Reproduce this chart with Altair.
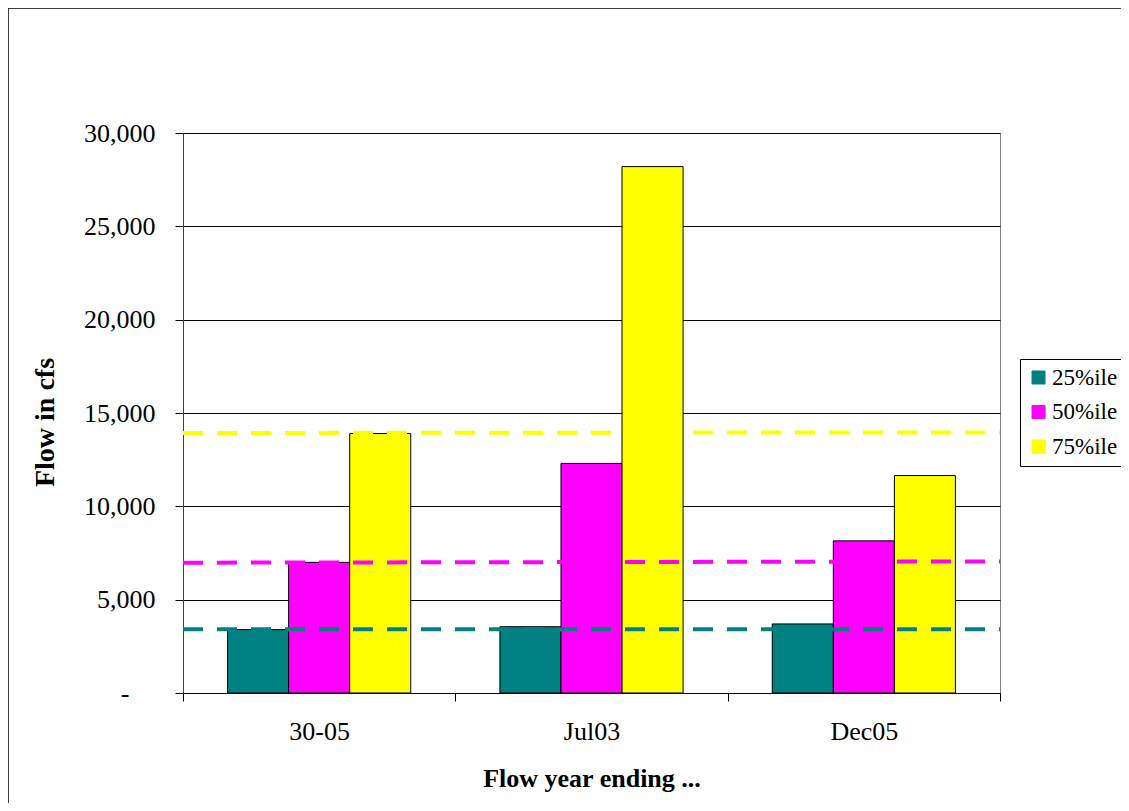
import altair as alt
import pandas as pd

categories = ["30-05", "Jul03", "Dec05"]
series = ["25%ile", "50%ile", "75%ile"]
p25 = [3400, 3550, 3700]
p50 = [7000, 12300, 8150]
p75 = [13900, 28200, 11650]
ref_start = [3420, 6980, 13930]
ref_end = [3420, 7050, 13960]
colors = ["#008080", "#FF00FF", "#FFFF00"]
y_ticks = [0, 5000, 10000, 15000, 20000, 25000, 30000]

rows = []
for i, c in enumerate(categories):
    for s, vals in zip(series, [p25, p50, p75]):
        rows.append({"cat": c, "series": s, "value": vals[i]})
bars_df = pd.DataFrame(rows)
ref_df = pd.DataFrame({"series": series, "start": ref_start, "end": ref_end})

W, H = 817, 560
FONT = "Liberation Serif"

frame = alt.Chart(alt.Data(values=[{}])).mark_rect(
    fill=None, stroke="black", strokeWidth=1.5
).encode(
    x=alt.value(-175), x2=alt.value(W + 300),
    y=alt.value(-125), y2=alt.value(H + 300)
)

zero_label = "-" + "\u00a0" * 4 + "\u200b"

bars = alt.Chart(bars_df).mark_bar(stroke="black", strokeWidth=1).encode(
    x=alt.X("cat:N", sort=categories,
            scale=alt.Scale(paddingInner=0, paddingOuter=0),
            axis=alt.Axis(title="Flow year ending ...", labelAngle=0,
                          tickBand="extent", tickSize=8, labelPadding=17,
                          titleY=85, titleBaseline="middle", titleFontSize=26,
                          domainColor="black", tickColor="black")),
    xOffset=alt.XOffset("series:N", sort=series,
                        scale=alt.Scale(paddingInner=0, paddingOuter=0.73)),
    y=alt.Y("value:Q", scale=alt.Scale(domain=[0, 30000], nice=False),
            axis=alt.Axis(title="Flow in cfs", values=y_ticks, format=",d",
                          labelExpr="datum.value == 0 ? '" + zero_label + "' : format(datum.value, ',d')",
                          tickSize=8, labelPadding=20, grid=True,
                          gridColor="black", gridOpacity=1, gridWidth=1,
                          domainColor="#404040", tickColor="black",
                          titleX=-138, titleY=289, titleAngle=-90, titleFontSize=28,
                          titleAlign="center", titleBaseline="middle")),
    fill=alt.Fill("series:N", sort=series,
                  scale=alt.Scale(domain=series, range=colors),
                  legend=alt.Legend(title=None, orient="none",
                                    legendX=837, legendY=226,
                                    symbolType="square", symbolSize=169,
                                    symbolStrokeColor="black",
                                    symbolStrokeWidth=1,
                                    labelFontSize=23, labelFont=FONT,
                                    labelColor="black", labelLimit=200,
                                    strokeColor="black", padding=7,
                                    rowPadding=10.5, labelOffset=2,
                                    fillColor="white")),
)

refs = alt.Chart(ref_df).mark_rule(strokeWidth=4, strokeDash=[20, 14]).encode(
    x=alt.value(0), x2=alt.value(W),
    y=alt.Y("start:Q"), y2=alt.Y2("end:Q"),
    stroke=alt.Stroke("series:N", scale=alt.Scale(domain=series, range=colors),
                      legend=None),
)

chart = alt.layer(frame, bars, refs).properties(
    width=W, height=H,
    autosize=alt.AutoSizeParams(type="none"),
    padding={"left": 175, "top": 125, "right": 121, "bottom": 110},
    background="white",
).configure_axis(
    labelFont=FONT, labelFontSize=26, labelColor="black",
    titleFont=FONT, titleFontWeight="bold", titleColor="black",
).configure_view(stroke="#808080", strokeWidth=1)

chart.save("out.html", embed_options={"renderer": "svg", "actions": False})
